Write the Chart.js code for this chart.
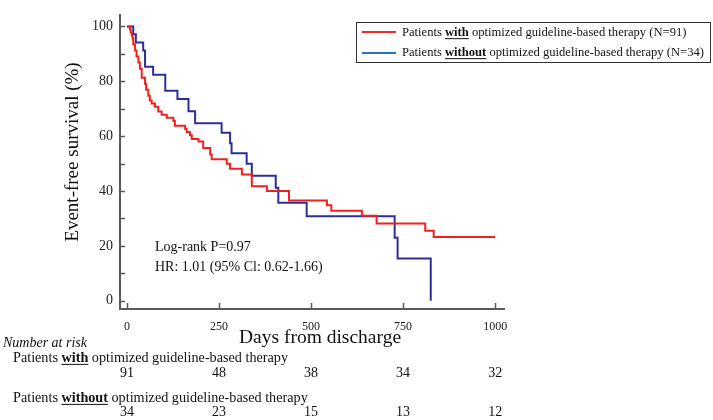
<!DOCTYPE html>
<html>
<head>
<meta charset="utf-8">
<script src="https://cdn.jsdelivr.net/npm/chart.js@4/dist/chart.umd.min.js"></script>
<style>
    html, body { margin: 0; padding: 0; background: #fff; }
</style>
</head>
<body>
<canvas id="kmChart" width="713" height="420"></canvas>
<script>
// survival curves (days, % event-free)
var withDays = [0, 8, 10, 13, 15, 17, 22, 26, 31, 35, 40, 49, 52, 58, 62, 67, 76, 85, 94, 108, 126, 130, 158, 162, 171, 176, 194, 207, 226, 230, 271, 280, 312, 339, 380, 440, 543, 555, 638, 678, 810, 833, 1000];
var withSurv = [100, 98.9, 97.8, 96.7, 95.6, 93.4, 91.2, 89.0, 86.8, 84.6, 81.3, 79.1, 76.9, 74.7, 73.0, 71.9, 70.7, 69.0, 67.8, 66.7, 65.5, 63.8, 62.6, 61.5, 60.3, 59.0, 58.0, 55.7, 53.3, 51.6, 49.9, 48.1, 46.0, 41.7, 40.0, 36.5, 34.8, 32.8, 31.0, 28.2, 25.5, 23.2, 23.2];
var withoutDays = [0, 17, 24, 44, 49, 71, 104, 137, 167, 185, 257, 280, 284, 325, 339, 404, 411, 488, 727, 735, 825];
var withoutSurv = [100, 97.1, 94.1, 91.2, 85.3, 82.4, 76.5, 73.5, 69.1, 64.7, 61.2, 57.4, 53.8, 49.9, 45.6, 41.2, 35.7, 30.8, 23.0, 15.4, 0];

var xTicks = [0, 250, 500, 750, 1000];
var yTicks = [0, 20, 40, 60, 80, 100];
var yMinorTicks = [10, 30, 50, 70, 90];

var riskWith = [91, 48, 38, 34, 32];
var riskWithout = [34, 23, 15, 13, 12];

var serif = '"Liberation Serif", "Times New Roman", serif';
var axisColor = '#5a5a5a';

function toPoints(xs, ys) {
    return xs.map(function (d, i) { return { x: d, y: ys[i] }; });
}

// text with some bold + underlined words
function drawParts(ctx, x, y, parts, size) {
    var cx = x;
    parts.forEach(function (p) {
        ctx.font = (p.b ? 'bold ' : '') + size + 'px ' + serif;
        ctx.fillText(p.t, cx, y);
        var w = ctx.measureText(p.t).width;
        if (p.u) {
            ctx.beginPath();
            ctx.lineWidth = 1;
            ctx.moveTo(cx, y + size * 0.45);
            ctx.lineTo(cx + w, y + size * 0.45);
            ctx.stroke();
        }
        cx += w;
    });
}

var kmPlugin = {
    id: 'kmExtras',
    afterDraw: function (chart) {
        var ctx = chart.ctx;
        var xs = chart.scales.x;
        var ys = chart.scales.y;
        ctx.save();

        // inward tick marks
        ctx.strokeStyle = axisColor;
        ctx.lineWidth = 1.5;
        yTicks.concat(yMinorTicks).forEach(function (v) {
            var py = Math.round(ys.getPixelForValue(v)) + 0.5;
            ctx.beginPath();
            ctx.moveTo(xs.left, py);
            ctx.lineTo(xs.left + 5, py);
            ctx.stroke();
        });
        xTicks.forEach(function (v) {
            var px = Math.round(xs.getPixelForValue(v)) + 0.5;
            ctx.beginPath();
            ctx.moveTo(px, ys.bottom);
            ctx.lineTo(px, ys.bottom - 6);
            ctx.stroke();
        });

        ctx.fillStyle = '#111';
        ctx.strokeStyle = '#111';
        ctx.textBaseline = 'middle';

        // axis titles
        ctx.save();
        ctx.translate(73, 152);
        ctx.rotate(-Math.PI / 2);
        ctx.textAlign = 'center';
        ctx.font = '19px ' + serif;
        ctx.fillText('Event-free survival (%)', 0, 0);
        ctx.restore();

        ctx.textAlign = 'center';
        ctx.font = '19.5px ' + serif;
        ctx.fillText('Days from discharge', 320, 338);

        // statistics
        ctx.textAlign = 'left';
        ctx.font = '14px ' + serif;
        ctx.fillText('Log-rank P=0.97', 155, 247);
        ctx.fillText('HR: 1.01 (95% Cl: 0.62-1.66)', 155, 267);

        // legend box
        ctx.lineWidth = 1;
        ctx.strokeStyle = '#333';
        ctx.strokeRect(356.5, 22.5, 354, 40);
        ctx.lineWidth = 2;
        ctx.strokeStyle = '#f02828';
        ctx.beginPath(); ctx.moveTo(362, 32); ctx.lineTo(396, 32); ctx.stroke();
        ctx.strokeStyle = '#2f6ec6';
        ctx.beginPath(); ctx.moveTo(362, 53); ctx.lineTo(396, 53); ctx.stroke();
        ctx.strokeStyle = '#111';
        drawParts(ctx, 402, 33, [{ t: 'Patients ' }, { t: 'with', b: true, u: true }, { t: ' optimized guideline-based therapy (N=91)' }], 12.6);
        drawParts(ctx, 402, 53, [{ t: 'Patients ' }, { t: 'without', b: true, u: true }, { t: ' optimized guideline-based therapy (N=34)' }], 12.6);

        // number at risk table
        ctx.font = 'italic 14px ' + serif;
        ctx.fillText('Number at risk', 3, 343);
        drawParts(ctx, 13, 358, [{ t: 'Patients ' }, { t: 'with', b: true, u: true }, { t: ' optimized guideline-based therapy' }], 14.2);
        drawParts(ctx, 13, 398, [{ t: 'Patients ' }, { t: 'without', b: true, u: true }, { t: ' optimized guideline-based therapy' }], 14.2);
        ctx.font = '14px ' + serif;
        ctx.textAlign = 'center';
        xTicks.forEach(function (v, i) {
            var px = xs.getPixelForValue(v);
            ctx.fillText(String(riskWith[i]), px, 373);
            ctx.fillText(String(riskWithout[i]), px, 412);
        });

        ctx.restore();
    }
};

var chart = new Chart(document.getElementById('kmChart').getContext('2d'), {
    type: 'line',
    data: {
        datasets: [{
            label: 'with',
            data: toPoints(withDays, withSurv),
            borderColor: '#f02020',
            borderWidth: 2,
            stepped: true,
            pointRadius: 0,
            fill: false
        }, {
            label: 'without',
            data: toPoints(withoutDays, withoutSurv),
            borderColor: '#2b2f96',
            borderWidth: 2,
            stepped: true,
            pointRadius: 0,
            fill: false
        }]
    },
    options: {
        responsive: false,
        animation: false,
        devicePixelRatio: 1,
        layout: { padding: { left: 0, top: 0, right: 209, bottom: 0 } },
        plugins: { legend: { display: false }, tooltip: { enabled: false } },
        scales: {
            x: {
                type: 'linear',
                min: -19,
                max: 1024,
                afterBuildTicks: function (s) { s.ticks = xTicks.map(function (v) { return { value: v }; }); },
                afterFit: function (s) { s.height = 111; },
                grid: { display: false, drawTicks: false },
                border: { display: true, color: axisColor, width: 2 },
                ticks: {
                    color: '#222', padding: 11, maxRotation: 0, autoSkip: false,
                    font: { family: serif, size: 12 },
                    callback: function (v) { return String(v); }
                }
            },
            y: {
                min: -3,
                max: 104,
                afterBuildTicks: function (s) { s.ticks = yTicks.map(function (v) { return { value: v }; }); },
                afterFit: function (s) { s.width = 120; },
                grid: { display: false, drawTicks: false },
                border: { display: true, color: axisColor, width: 2 },
                ticks: {
                    color: '#222', padding: 7,
                    font: { family: serif, size: 14 },
                    callback: function (v) { return String(v); }
                }
            }
        }
    },
    plugins: [kmPlugin]
});
</script>
</body>
</html>
